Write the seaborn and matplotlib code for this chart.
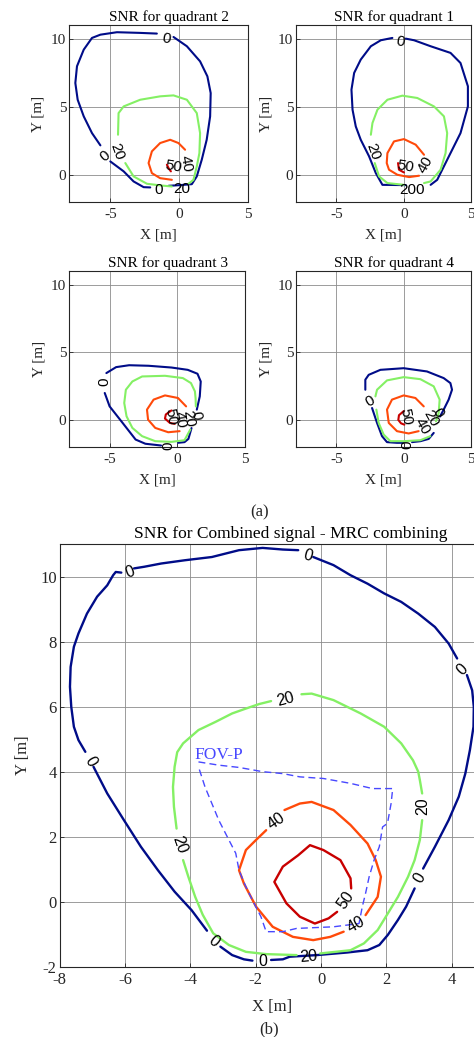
import matplotlib
matplotlib.use("Agg")
import matplotlib.pyplot as plt
import pandas as pd
import seaborn as sns

# ---------------------------------------------------------------------------
# SNR contour data (x, y in metres). Each level is a list of polyline pieces;
# the breaks between pieces leave room for the inline level labels.
# ---------------------------------------------------------------------------
LEVEL_COLORS = {0: "#000c88", 20: "#84f064", 40: "#ff4a0a", 50: "#c80000"}

# Quadrant 2
Q2_SNR0 = [
    [(-1.62, 10.37), (-2.83, 10.42), (-4.52, 10.47), (-5.72, 10.29), (-6.33, 10.05),
     (-6.93, 9.19), (-7.42, 7.97), (-7.54, 6.74), (-7.37, 5.51), (-6.93, 4.29),
     (-6.33, 3.06), (-5.72, 2.16)],
    [(-5.00, 0.98), (-4.03, 0.25), (-3.31, -0.49), (-2.58, -0.91), (-2.10, -0.93)],
    [(-0.77, -0.81), (0.07, -0.76), (0.92, -0.69), (1.28, -0.12), (1.64, 1.10),
     (2.00, 2.57), (2.25, 4.29), (2.29, 6.00), (2.05, 7.23), (1.52, 8.33),
     (0.56, 9.44), (-0.41, 10.12)],
]
Q2_SNR20 = [
    [(-4.44, 2.94), (-4.40, 4.53), (-4.03, 5.02), (-2.83, 5.51), (-1.38, 5.76),
     (-0.41, 5.83), (0.56, 5.51), (1.28, 4.53), (1.52, 3.06), (1.47, 1.59),
     (1.28, 0.61), (1.04, -0.37), (0.68, -0.66)],
    [(-0.53, -0.86), (-1.38, -0.78), (-2.34, -0.66), (-3.31, -0.12), (-3.91, 0.86)],
]
Q2_SNR40 = [
    [(0.43, 1.84), (-0.05, 2.33), (-0.65, 2.57), (-1.38, 2.33), (-1.98, 1.72),
     (-2.22, 0.86), (-1.98, 0.12), (-1.38, -0.25), (-0.53, -0.37)],
]
Q2_SNR50 = [[(-0.89, 0.74), (-0.75, 0.45), (-0.60, 0.25)]]
Q2_LABELS = [(0, -0.94, 10.0, -10), (0, -5.36, 1.40, 40), (0, -1.52, -1.10, 0),
             (20, -4.49, 1.69, -70), (20, 0.22, -1.03, 0), (40, 0.51, 0.80, -80),
             (50, -0.45, 0.62, -10)]

# Quadrant 1
Q1_SNR0 = [
    [(-0.84, 10.05), (-1.70, 9.88), (-2.44, 9.44), (-3.19, 8.46), (-3.68, 7.48),
     (-3.88, 6.25), (-3.80, 4.78), (-3.56, 3.55), (-3.19, 2.57), (-2.57, 1.35),
     (-2.07, 0.12), (-1.58, -0.74), (0.15, -0.76)],
    [(2.00, -0.74), (2.49, -0.37), (3.23, 1.10), (4.22, 3.06), (4.77, 5.02),
     (4.77, 6.50), (4.22, 8.21), (3.48, 8.95), (2.00, 9.44), (0.77, 9.88), (0.15, 10.0)],
]
Q1_SNR20 = [
    [(-2.44, 2.94), (-2.32, 3.80), (-1.95, 4.78), (-1.21, 5.51), (-0.10, 5.81),
     (1.01, 5.64), (2.25, 5.02), (2.99, 4.29), (3.23, 3.06), (3.11, 1.59),
     (2.74, 0.37), (2.00, -0.49), (1.51, -0.61)],
    [(0.02, -0.74), (-1.21, -0.61), (-1.83, -0.12), (-2.15, 0.86)],
]
Q1_SNR40 = [
    [(1.51, 1.47), (0.89, 2.21), (0.02, 2.62), (-0.72, 2.45), (-1.21, 1.59),
     (-1.26, 0.86), (-1.09, 0.37), (-0.47, 0.0), (0.40, -0.17), (1.14, -0.07)],
]
Q1_SNR50 = [[(-0.42, 0.86), (-0.35, 0.37), (0.02, 0.17)]]
Q1_LABELS = [(0, -0.22, 9.75, -10), (20, -2.30, 1.69, -70), (20, 0.30, -1.10, 0),
             (0, 1.19, -1.10, 0), (40, 1.63, 0.74, 60), (50, 0.15, 0.59, -10)]

# Quadrant 3
Q3_SNR0 = [
    [(-5.24, 3.46), (-4.52, 3.90), (-3.56, 4.04), (-2.12, 4.0), (-0.43, 3.87),
     (0.77, 3.70), (1.49, 3.41), (1.73, 2.84), (1.66, 1.74), (1.44, 0.76)],
    [(1.05, -0.60), (0.82, -1.40), (0.53, -1.64), (0.05, -1.69)],
    [(-1.20, -1.89), (-2.36, -1.76), (-3.08, -1.45), (-4.04, -0.22), (-5.00, 1.00),
     (-5.36, 1.99)],
]
Q3_SNR20 = [
    [(1.37, 1.00), (1.35, 1.60), (1.30, 2.11), (1.01, 2.72), (0.41, 3.09),
     (-0.91, 3.26), (-2.60, 3.21), (-3.32, 2.84), (-3.80, 2.23), (-3.92, 1.25),
     (-3.75, 0.27), (-3.32, -0.59), (-2.60, -1.20), (-1.63, -1.57), (-0.43, -1.62),
     (0.53, -1.50), (0.96, -0.71)],
]
Q3_SNR40 = [
    [(0.65, 1.00), (0.05, 1.62), (-0.91, 1.81), (-1.75, 1.50), (-2.24, 0.76),
     (-2.16, 0.02), (-1.63, -0.59), (-0.67, -0.91), (0.17, -0.83)],
]
Q3_SNR50 = [[(-0.43, 0.70), (-0.85, 0.40), (-0.91, 0.10), (-0.55, -0.22), (-0.19, -0.29)]]
Q3_LABELS = [(0, -5.36, 2.84, 90), (0, -0.63, -1.94, 90), (50, -0.45, 0.25, -80),
             (40, 0.20, 0.05, -80), (20, 0.85, 0.10, -80), (0, 1.35, 0.35, -80)]

# Quadrant 4
Q4_SNR0 = [
    [(-2.85, 2.23), (-2.85, 2.97), (-2.60, 3.33), (-1.73, 3.70), (0.00, 3.82),
     (1.73, 3.58), (2.97, 3.09), (3.47, 2.72), (3.59, 2.23), (3.34, 1.50),
     (2.97, 0.76), (2.70, 0.25)],
    [(2.23, -0.96), (1.86, -1.40), (1.24, -1.57), (0.62, -1.64)],
    [(-0.05, -1.69), (-0.50, -1.69), (-1.24, -1.64), (-1.61, -1.20), (-1.98, -0.22),
     (-2.35, 0.88)],
]
Q4_SNR20 = [
    [(-2.10, 1.74), (-1.98, 2.23), (-1.24, 2.92), (0.00, 3.16), (1.24, 3.01),
     (2.23, 2.48), (2.67, 1.50), (2.60, 0.51), (2.40, -0.10)],
    [(1.98, -1.20), (1.24, -1.50), (0.00, -1.57), (-0.99, -1.57), (-1.49, -1.08),
     (-1.86, -0.22), (-2.03, 0.76)],
]
Q4_SNR40 = [
    [(1.49, 1.00), (0.87, 1.62), (0.00, 1.81), (-0.87, 1.50), (-1.24, 0.76),
     (-1.11, -0.22), (-0.50, -0.83), (0.37, -1.00), (1.11, -0.83)],
]
Q4_SNR50 = [[(0.00, 0.65), (-0.35, 0.35), (-0.40, 0.00), (-0.20, -0.25), (0.05, -0.35)]]
Q4_LABELS = [(0, -2.52, 1.37, 30), (0, 0.27, -1.82, 90), (50, 0.13, 0.24, -80),
             (40, 1.40, -0.45, -60), (20, 2.05, 0.12, -60), (0, 2.55, 0.55, -60)]

# Combined signal (MRC)
MRC_SNR0 = [
    [(-6.11, 10.12), (-6.28, 10.14), (-6.36, 10.04), (-6.54, 9.73), (-6.85, 9.38),
     (-7.16, 8.86), (-7.42, 8.25), (-7.56, 7.84), (-7.66, 7.22), (-7.68, 6.61),
     (-7.64, 5.99), (-7.56, 5.38), (-7.42, 4.97), (-7.21, 4.61)],
    [(-6.96, 4.15), (-6.54, 3.33), (-6.03, 2.51), (-5.51, 1.69), (-4.99, 0.97),
     (-4.48, 0.31), (-3.96, -0.26), (-3.49, -0.89)],
    [(-3.08, -1.38), (-2.72, -1.64), (-2.36, -1.77), (-2.10, -1.81)],
    [(-1.53, -1.79), (-1.17, -1.77), (-0.96, -1.69), (-0.13, -1.64), (0.80, -1.56),
     (1.42, -1.49), (1.78, -1.33), (2.04, -1.02), (2.35, -0.56), (2.60, -0.15),
     (2.86, 0.41)],
    [(3.12, 1.02), (3.48, 1.69), (3.90, 2.51), (4.21, 3.23), (4.41, 3.94),
     (4.55, 4.66), (4.66, 5.38), (4.67, 5.99), (4.62, 6.50), (4.46, 6.97)],
    [(4.16, 7.48), (3.90, 7.94), (3.48, 8.45), (2.97, 8.86), (2.45, 9.22),
     (1.93, 9.48), (1.42, 9.78), (0.90, 10.04), (0.38, 10.35), (-0.24, 10.60)],
    [(-0.70, 10.81), (-1.17, 10.83), (-1.79, 10.88), (-2.51, 10.81), (-3.34, 10.60),
     (-4.17, 10.50), (-4.89, 10.40), (-5.41, 10.30), (-5.72, 10.25)],
]
MRC_SNR20 = [
    [(-0.60, 6.38), (-0.29, 6.40), (0.38, 6.20), (1.21, 5.79), (1.93, 5.38),
     (2.45, 4.87), (2.81, 4.35), (2.97, 4.00), (3.02, 3.74), (3.09, 3.33)],
    [(3.09, 2.51), (3.02, 1.90), (2.86, 1.28), (2.66, 0.77), (2.35, 0.15),
     (2.04, -0.36), (1.73, -0.87), (1.31, -1.28), (0.90, -1.49), (-0.03, -1.59)],
    [(-0.75, -1.64), (-1.68, -1.61), (-2.30, -1.54), (-2.82, -1.33), (-3.30, -0.97),
     (-3.62, -0.40), (-3.85, 0.15), (-4.06, 0.77), (-4.22, 1.28)],
    [(-4.42, 2.25), (-4.50, 2.92), (-4.53, 3.53), (-4.48, 4.15), (-4.40, 4.60),
     (-4.22, 4.87), (-3.75, 5.28), (-3.23, 5.53), (-2.72, 5.79), (-2.30, 5.94),
     (-1.89, 6.08), (-1.53, 6.17)],
]
MRC_SNR40 = [
    [(-1.12, 2.82), (-0.65, 3.02), (-0.29, 3.07), (0.38, 2.82), (0.90, 2.36),
     (1.42, 1.79), (1.67, 1.28), (1.83, 0.77), (1.73, 0.15), (1.36, -0.41)],
    [(0.69, -0.92), (0.28, -1.08), (-0.24, -1.18), (-0.86, -1.08), (-1.48, -0.77),
     (-1.99, -0.15), (-2.36, 0.56), (-2.51, 0.97), (-2.30, 1.59), (-1.99, 1.90),
     (-1.68, 2.20)],
]
MRC_SNR50 = [
    [(0.49, -0.31), (0.23, -0.51), (-0.19, -0.67), (-0.65, -0.46), (-1.06, -0.05),
     (-1.43, 0.61), (-1.17, 1.08), (-0.70, 1.43), (-0.34, 1.74), (0.07, 1.59),
     (0.59, 1.28), (0.90, 0.72), (0.92, 0.41)],
]
MRC_LABELS = [(0, -5.84, 10.14, 20), (0, -0.42, 10.64, -15), (0, 4.31, 7.14, 45),
              (0, -7.06, 4.30, -60), (0, -3.29, -1.21, -40), (0, -1.79, -1.84, 0),
              (0, 3.00, 0.72, 60), (20, -1.10, 6.22, 15), (20, 3.12, 2.94, 90),
              (20, -0.39, -1.69, 5), (20, -4.33, 1.74, -70), (40, -1.38, 2.48, 35),
              (40, 1.06, -0.70, 30), (50, 0.76, 0.05, 55)]

# Field-of-view boundary of the photodiode
FOV_X = [-3.75, -3.13, -2.51, -1.79, -1.17, -0.65, 0.07, 0.90, 1.57, 2.19, 2.14,
         2.03, 1.88, 1.78, 1.62, 1.47, 1.36, 1.26, 1.16, 0.38, -0.75, -1.17,
         -1.68, -1.84, -2.10, -2.30, -2.51, -2.61, -2.82, -3.13, -3.34, -3.55, -3.75]
FOV_Y = [4.30, 4.20, 4.13, 4.00, 3.94, 3.84, 3.79, 3.64, 3.48, 3.48, 3.02,
         2.41, 2.30, 1.69, 1.28, 0.77, 0.26, -0.15, -0.67, -0.77, -0.82, -0.92,
         -0.92, -0.46, 0.05, 0.46, 0.97, 1.49, 1.90, 2.51, 3.02, 3.53, 4.15]

X_TICKS_SMALL = [-5, 0, 5]
Y_TICKS_SMALL = [0, 5, 10]
X_TICKS_BIG = [-8, -6, -4, -2, 0, 2, 4]
Y_TICKS_BIG = [-2, 0, 2, 4, 6, 8, 10]


def contour_frame(levels):
    rows = []
    for level, pieces in levels.items():
        for k, piece in enumerate(pieces):
            for i, (x, y) in enumerate(piece):
                rows.append((level, f"{level}-{k}", i, x, y))
    return pd.DataFrame(rows, columns=["level", "piece", "order", "x", "y"])


sns.set_style("ticks")
plt.rcParams["font.family"] = ["Liberation Serif", "DejaVu Serif"]
plt.rcParams["axes.unicode_minus"] = False

W, H = 474, 1037
fig = plt.figure(figsize=(W / 100, H / 100), dpi=100)


def px_axes(left, top, right, bottom):
    return fig.add_axes([left / W, 1 - bottom / H, (right - left) / W, (bottom - top) / H])


def style_axes(ax, xticks, yticks, fs, xlab_y, ylab_x):
    ax.set_xlim(-8, 5)
    ax.set_ylim(-2, 11)
    ax.set_xticks(xticks)
    ax.set_yticks(yticks)
    ax.grid(True, color="#8c8c8c", linewidth=0.6)
    ax.set_axisbelow(True)
    ax.tick_params(direction="in", length=3, width=0.6, colors="#262626",
                   labelsize=fs, pad=4)
    ax.tick_params(axis="y", pad=2)
    for sp in ax.spines.values():
        sp.set_color("#262626")
        sp.set_linewidth(0.8)
    ax.set_xlabel("X [m]", fontsize=fs, color="#262626")
    ax.set_ylabel("Y [m]", fontsize=fs, color="#262626")
    ax.xaxis.set_label_coords(0.5, xlab_y)
    ax.yaxis.set_label_coords(ylab_x, 0.5)


def draw_contours(ax, levels, labels, lw, fs):
    df = contour_frame(levels)
    sns.lineplot(data=df, x="x", y="y", hue="level", units="piece", estimator=None,
                 sort=False, palette=LEVEL_COLORS, legend=False, linewidth=lw, ax=ax)
    for level, x, y, rot in labels:
        ax.text(x, y, str(level), rotation=rot, rotation_mode="anchor",
                ha="center", va="center", fontsize=fs, color="black",
                family=["Liberation Sans", "DejaVu Sans"])


panels = [
    ("SNR for quadrant 2", (69, 25, 248, 202),
     {0: Q2_SNR0, 20: Q2_SNR20, 40: Q2_SNR40, 50: Q2_SNR50}, Q2_LABELS),
    ("SNR for quadrant 1", (296, 25, 471, 202),
     {0: Q1_SNR0, 20: Q1_SNR20, 40: Q1_SNR40, 50: Q1_SNR50}, Q1_LABELS),
    ("SNR for quadrant 3", (69, 271, 245, 447),
     {0: Q3_SNR0, 20: Q3_SNR20, 40: Q3_SNR40, 50: Q3_SNR50}, Q3_LABELS),
    ("SNR for quadrant 4", (296, 271, 471, 447),
     {0: Q4_SNR0, 20: Q4_SNR20, 40: Q4_SNR40, 50: Q4_SNR50}, Q4_LABELS),
]

for title, box, levels, labels in panels:
    ax = px_axes(*box)
    style_axes(ax, X_TICKS_SMALL, Y_TICKS_SMALL, 11, -0.15, -0.135)
    draw_contours(ax, levels, labels, 1.5, 11)
    ax.set_title(title, fontsize=11, x=0.56, pad=3, color="black")

fig.text(260 / W, 1 - 512 / H, "(a)", ha="center", va="center", fontsize=12)

# Combined signal panel (extends past the right edge of the canvas)
axb = px_axes(59.5, 544, 59.5 + 13 * 32.7, 966.8)
style_axes(axb, X_TICKS_BIG, Y_TICKS_BIG, 12, -0.076, -0.066)
draw_contours(axb, {0: MRC_SNR0, 20: MRC_SNR20, 40: MRC_SNR40, 50: MRC_SNR50},
              MRC_LABELS, 1.7, 11.5)
fov = pd.DataFrame({"x": FOV_X, "y": FOV_Y})
sns.lineplot(data=fov, x="x", y="y", sort=False, estimator=None, color="#4848ff",
             linewidth=1.0, linestyle=(0, (5, 3)), ax=axb)
axb.text(-3.86, 4.50, "FOV-P", color="#4848ff", fontsize=12.5, ha="left", va="center")
axb.set_xlabel("X [m]", fontsize=12, color="#262626")
axb.set_ylabel("Y [m]", fontsize=12, color="#262626")
axb.set_title("SNR for Combined signal - MRC combining", fontsize=12.5, x=0.545,
              pad=4, color="black")

fig.text(269 / W, 1 - 1029 / H, "(b)", ha="center", va="center", fontsize=12)

fig.savefig("out.png", dpi=100)
